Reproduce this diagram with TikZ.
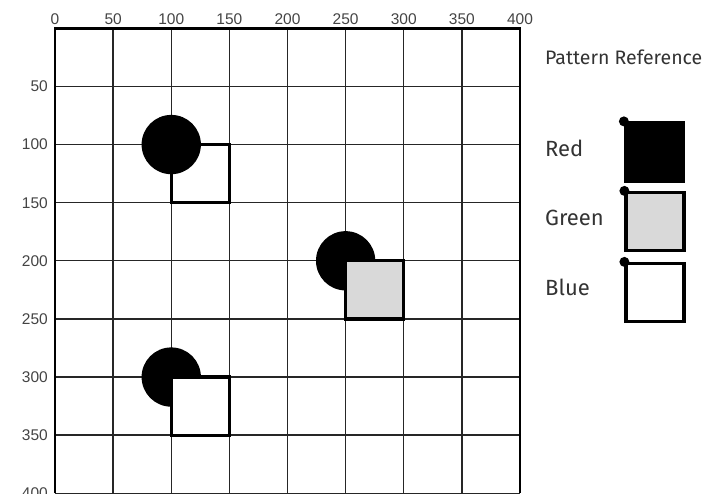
\documentclass[tikz,border=0pt]{standalone}
\usepackage{fontspec}
\setmainfont{Liberation Sans}
\newfontfamily\legendfont{Fira Sans}
\definecolor{axisgray}{HTML}{444444}
\definecolor{legendtext}{HTML}{333333}
\definecolor{greenfill}{HTML}{D9D9D9}
\begin{document}
\begin{tikzpicture}[x=1pt,y=-1pt,
  gridline/.style={line width=1.4pt,draw=black!85},
  frameline/.style={line width=2.6pt,draw=black},
  axislabel/.style={font=\fontsize{15.5}{17}\selectfont,text=axisgray,inner sep=0pt},
  shapebox/.style={draw=black,line width=3.2pt},
  blob/.style={fill=black},
  legendlabel/.style={font=\legendfont\fontsize{22}{25}\selectfont,text=legendtext,inner sep=0pt,anchor=west},
  legendbox/.style={draw=black,line width=3.2pt,minimum width=58pt,minimum height=58pt,inner sep=0pt},
  cornerdot/.style={circle,fill=black,inner sep=0pt,minimum size=10pt}
]
\useasboundingbox (0,0) rectangle (716,494);
\fill[white] (0,0) rectangle (716,494);
\begin{scope}[shift={(55,28.3)},x=1.1625pt,y=-1.1625pt]
  % grid
  \foreach \v in {50,100,...,350} {
    \draw[gridline] (\v,0) -- (\v,400);
    \draw[gridline] (0,\v) -- (400,\v);
  }
  \draw[gridline] (0,400) -- (400,400);
  \draw[frameline] (0,400) -- (0,0) -- (400,0) -- (400,400);
  % axis labels
  \foreach \v in {0,50,...,400} {
    \node[axislabel] (tx\v) at (\v,-7.5) {\v};
  }
  \foreach \v in {50,100,...,400} {
    \node[axislabel,anchor=east] (ly\v) at (-6,\v) {\v};
  }
  % first group: square under circle
  \draw[shapebox] (100,100) rectangle (150,150);
  \node[coordinate] (sq1) at (125,125) {};
  \fill[blob] (100,100) circle[radius=25.5];
  \node[coordinate] (c1) at (100,100) {};
  % second group
  \fill[blob] (250,200) circle[radius=25.5];
  \node[coordinate] (c2) at (250,200) {};
  \draw[shapebox,fill=greenfill] (250,200) rectangle (300,250);
  \node[coordinate] (sq2) at (275,225) {};
  % third group
  \fill[blob] (100,300) circle[radius=25.5];
  \node[coordinate] (c3) at (100,300) {};
  \draw[shapebox,fill=white] (100,300) rectangle (150,350);
  \node[coordinate] (sq3) at (125,325) {};
\end{scope}
% legend
\node[legendlabel,font=\legendfont\fontsize{19.5}{22}\selectfont] (title) at (545,57) {Pattern Reference};
\node[legendlabel] (lred) at (545,148) {Red};
\node[legendlabel] (lgreen) at (545,218) {Green};
\node[legendlabel] (lblue) at (545,287) {Blue};
\node[legendbox,fill=black] (bred) at (654.5,152) {};
\node[legendbox,fill=greenfill] (bgreen) at (655,221.5) {};
\node[legendbox,fill=white] (bblue) at (655,292.5) {};
\node[cornerdot] (dred) at (bred.north west) {};
\node[cornerdot] (dgreen) at (bgreen.north west) {};
\node[cornerdot] (dblue) at (bblue.north west) {};
\end{tikzpicture}
\end{document}
